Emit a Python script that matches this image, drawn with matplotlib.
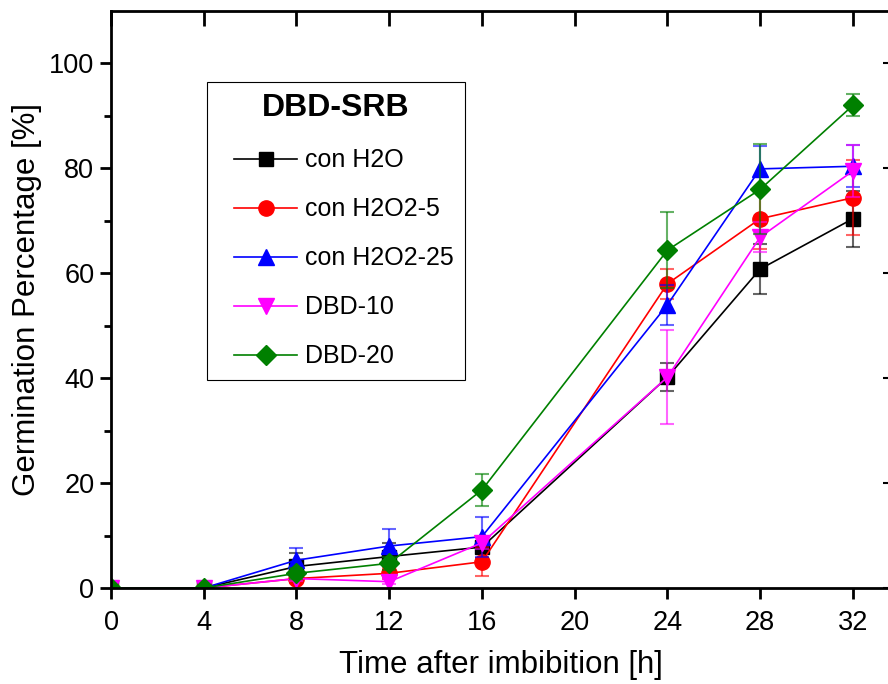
import numpy as np
import matplotlib.pyplot as plt
from matplotlib.lines import Line2D
from matplotlib.legend_handler import HandlerLine2D

plt.rcParams['font.family'] = ['Liberation Sans', 'DejaVu Sans']

# tiempos de medicion
horas = [0, 4, 8, 12, 16, 24, 28, 32]

# porcentajes de germinacion y desviaciones
h2o = [0, 0, 4.1, 6.0, 7.8, 40.2, 60.8, 70.4]
h2o_err = [0, 0, 2.6, 2.5, 2.0, 2.6, 4.7, 5.3]

h2o2_5 = [0, 0, 1.8, 2.8, 5.0, 58.0, 70.4, 74.4]
h2o2_5_err = [0, 0, 0.8, 1.0, 2.8, 2.9, 5.8, 7.1]

h2o2_25 = [0, 0, 5.3, 8.0, 9.8, 54.0, 79.9, 80.4]
h2o2_25_err = [0, 0, 2.3, 3.3, 3.8, 3.8, 4.3, 4.0]

dbd10 = [0, 0, 1.8, 1.2, 8.6, 40.2, 66.9, 79.5]
dbd10_err = [0, 0, 0.5, 0.5, 1.2, 9.0, 2.8, 5.0]

dbd20 = [0, 0, 2.8, 4.7, 18.7, 64.4, 76.0, 92.0]
dbd20_err = [0, 0, 1.0, 1.2, 3.0, 7.2, 8.6, 2.1]

series = [
    ("con H2O", h2o, h2o_err, "black", "s", 10),
    ("con H2O2-5", h2o2_5, h2o2_5_err, "red", "o", 11),
    ("con H2O2-25", h2o2_25, h2o2_25_err, "blue", "^", 12),
    ("DBD-10", dbd10, dbd10_err, "#FF00FF", "v", 12),
    ("DBD-20", dbd20, dbd20_err, "green", "D", 10),
]

fig = plt.figure(figsize=(8.88, 6.84), dpi=100)
ax = fig.add_axes([111 / 888, 96 / 684, 779 / 888, 577 / 684])

for nombre, y, e, c, m, ms in series:
    ax.errorbar(horas, y, yerr=e, fmt='none', ecolor=c, elinewidth=1.5,
                capsize=5, capthick=1.5, alpha=0.6)
    ax.plot(horas, y, color=c, marker=m, markersize=ms, linewidth=1.2,
            label=nombre)

ax.set_xlim(0, 33.6)
ax.set_ylim(0, 110)
ax.set_xticks(np.arange(0, 33, 4))
ax.set_yticks(np.arange(0, 101, 20))
ax.set_yticks(np.arange(10, 100, 20), minor=True)

for s in ax.spines.values():
    s.set_linewidth(2)

ax.tick_params(axis='both', which='major', direction='out', length=8,
               width=2, labelsize=19.5)
ax.tick_params(axis='x', which='major', pad=8)
ax.tick_params(axis='y', which='major', pad=4)
ax.tick_params(axis='y', which='minor', direction='out', length=5, width=2)

# ticks hacia adentro arriba y a la derecha
top = ax.secondary_xaxis('top')
top.set_xticks(np.arange(0, 33, 4))
top.tick_params(direction='in', length=11, width=2, labeltop=False)
right = ax.secondary_yaxis('right')
right.set_yticks(np.arange(0, 101, 20))
right.tick_params(direction='in', length=5, width=1.5, labelright=False)

ax.set_xlabel("Time after imbibition [h]", fontsize=22.5, labelpad=10)
ax.set_ylabel("Germination Percentage [%]", fontsize=22.5)
ax.yaxis.set_label_coords(-0.088, 0.5)

leg = ax.legend(loc='upper left', bbox_to_anchor=(96 / 779, 506 / 577),
                borderaxespad=0, title="DBD-SRB", fontsize=18,
                handlelength=3.16, handletextpad=0.32, labelspacing=1.0,
                borderpad=0.45, fancybox=False, edgecolor='black',
                framealpha=1, handler_map={Line2D: HandlerLine2D(xpad=0.64)})
leg.get_title().set_fontweight('bold')
leg.get_title().set_fontsize(23)
leg.get_frame().set_linewidth(0.8)

fig.savefig("out.png", dpi=100)
